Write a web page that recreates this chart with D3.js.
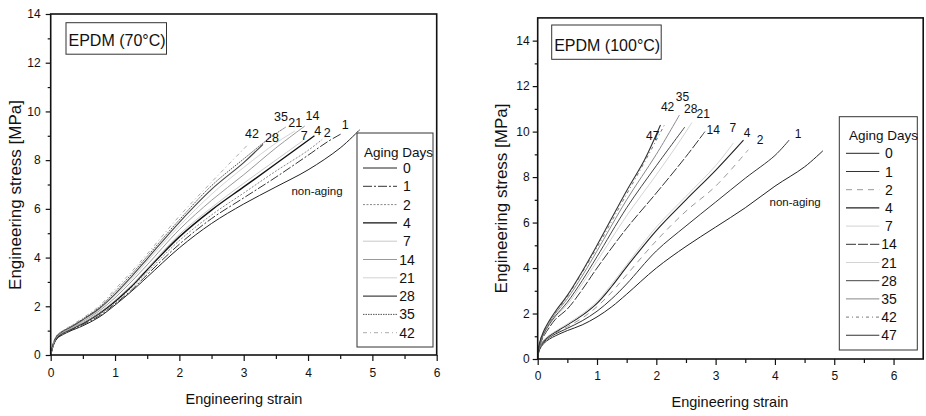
<!DOCTYPE html>
<html>
<head>
<meta charset="utf-8">
<script src="https://cdn.jsdelivr.net/npm/d3@7"></script>
<style>
  html, body { margin: 0; padding: 0; background: #fff; }
  svg { display: block; font-family: "Liberation Sans", Arial, sans-serif; }
</style>
</head>
<body>
<svg id="chart" width="926" height="416"></svg>
<script>
// ---------------- DATA ----------------
const agingDays70 = ["0", "1", "2", "4", "7", "14", "21", "28", "35", "42"];
const agingDays100 = ["0", "1", "2", "4", "7", "14", "21", "28", "35", "42", "47"];

const xTicks70 = [0, 1, 2, 3, 4, 5, 6];
const yTicks70 = [0, 2, 4, 6, 8, 10, 12, 14];
const xTicks100 = [0, 1, 2, 3, 4, 5, 6];
const yTicks100 = [0, 2, 4, 6, 8, 10, 12, 14];

// Left chart: EPDM (70°C), [strain, stress MPa]
const c70_0  = [[0,0],[0.05,0.45],[0.1,0.68],[0.2,0.85],[0.3,0.98],[0.5,1.2],[0.75,1.55],[1,2.05],[1.25,2.6],[1.5,3.2],[2,4.4],[2.5,5.4],[3,6.2],[3.5,6.9],[4,7.6],[4.5,8.5],[4.8,9.24]];
const c70_1  = [[0,0],[0.05,0.48],[0.1,0.7],[0.2,0.88],[0.3,1.0],[0.5,1.25],[0.75,1.6],[1,2.1],[1.25,2.65],[1.5,3.3],[2,4.55],[2.5,5.6],[3,6.45],[3.5,7.3],[4,8.2],[4.3,8.75],[4.53,9.1]];
const c70_2  = [[0,0],[0.05,0.5],[0.1,0.72],[0.2,0.9],[0.3,1.02],[0.5,1.28],[0.75,1.65],[1,2.15],[1.25,2.75],[1.5,3.4],[2,4.7],[2.5,5.75],[3,6.65],[3.5,7.55],[4,8.4],[4.22,8.85]];
const c70_4  = [[0,0],[0.05,0.5],[0.1,0.74],[0.2,0.92],[0.3,1.05],[0.5,1.3],[0.75,1.7],[1,2.2],[1.25,2.8],[1.5,3.5],[2,4.85],[2.5,5.95],[3,6.9],[3.5,7.85],[4.1,9.0]];
const c70_7  = [[0,0],[0.05,0.5],[0.1,0.75],[0.2,0.93],[0.3,1.06],[0.5,1.32],[0.75,1.72],[1,2.25],[1.25,2.85],[1.5,3.55],[2,4.95],[2.5,6.05],[3,7.05],[3.5,8.0],[3.92,8.8]];
const c70_14 = [[0,0],[0.05,0.52],[0.1,0.77],[0.2,0.95],[0.3,1.08],[0.5,1.38],[0.75,1.8],[1,2.35],[1.25,3.0],[1.5,3.7],[2,5.15],[2.5,6.35],[3,7.4],[3.5,8.5],[3.95,9.4]];
const c70_21 = [[0,0],[0.05,0.52],[0.1,0.78],[0.2,0.97],[0.3,1.1],[0.5,1.4],[0.75,1.85],[1,2.45],[1.25,3.1],[1.5,3.85],[2,5.3],[2.5,6.6],[3,7.7],[3.5,8.7],[3.8,9.2]];
const c70_28 = [[0,0],[0.05,0.55],[0.1,0.8],[0.2,1.0],[0.3,1.13],[0.5,1.45],[0.75,1.9],[1,2.5],[1.25,3.2],[1.5,3.95],[2,5.45],[2.5,6.8],[3,7.9],[3.3,8.65]];
const c70_35 = [[0,0],[0.05,0.55],[0.1,0.8],[0.2,1.0],[0.3,1.15],[0.5,1.48],[0.75,1.95],[1,2.6],[1.25,3.3],[1.5,4.05],[2,5.55],[2.5,6.95],[3,8.05],[3.4,8.9],[3.65,9.35]];
const c70_42 = [[0,0],[0.05,0.58],[0.1,0.82],[0.2,1.02],[0.3,1.18],[0.5,1.52],[0.75,2.0],[1,2.7],[1.25,3.4],[1.5,4.15],[2,5.7],[2.5,7.1],[3.07,8.65]];

// Right chart: EPDM (100°C)
const c100_0  = [[0,0],[0.03,0.4],[0.1,0.68],[0.2,0.88],[0.3,1.02],[0.5,1.25],[0.75,1.5],[1,1.85],[1.25,2.3],[1.5,2.85],[2,4.0],[2.5,4.95],[3,5.8],[3.5,6.65],[4,7.6],[4.5,8.45],[4.81,9.16]];
const c100_1  = [[0,0],[0.03,0.45],[0.1,0.74],[0.2,0.95],[0.3,1.1],[0.5,1.35],[0.75,1.68],[1,2.1],[1.25,2.65],[1.5,3.3],[2,4.75],[2.5,5.85],[3,6.9],[3.5,7.95],[4,8.95],[4.24,9.63]];
const c100_2  = [[0,0],[0.03,0.48],[0.1,0.77],[0.2,0.98],[0.3,1.14],[0.5,1.42],[0.75,1.8],[1,2.3],[1.25,2.95],[1.5,3.7],[2,5.2],[2.5,6.5],[3,7.6],[3.55,9.2]];
const c100_4  = [[0,0],[0.03,0.5],[0.1,0.8],[0.2,1.02],[0.3,1.19],[0.5,1.5],[0.75,1.92],[1,2.45],[1.25,3.2],[1.5,4.05],[2,5.65],[2.5,7.0],[3,8.3],[3.47,9.63]];
const c100_7  = [[0,0],[0.03,0.5],[0.1,0.82],[0.2,1.05],[0.3,1.22],[0.5,1.55],[0.75,1.98],[1,2.52],[1.25,3.3],[1.5,4.15],[2,5.8],[2.5,7.15],[3,8.5],[3.3,9.5]];
const c100_14 = [[0,0],[0.03,0.55],[0.1,1.0],[0.2,1.4],[0.3,1.75],[0.5,2.2],[0.75,3.05],[1,4.0],[1.5,5.75],[2,7.3],[2.5,8.9],[2.82,10.0]];
const c100_21 = [[0,0],[0.03,0.6],[0.1,1.05],[0.2,1.5],[0.3,1.85],[0.5,2.4],[0.75,3.3],[1,4.3],[1.5,6.3],[2,8.1],[2.4,9.6],[2.6,10.4]];
const c100_28 = [[0,0],[0.03,0.62],[0.1,1.1],[0.2,1.55],[0.3,1.9],[0.5,2.5],[0.75,3.45],[1,4.5],[1.5,6.65],[2,8.5],[2.48,10.2]];
const c100_35 = [[0,0],[0.03,0.65],[0.1,1.15],[0.2,1.6],[0.3,2.0],[0.5,2.65],[0.75,3.65],[1,4.75],[1.5,7.0],[2,9.0],[2.39,10.73]];
const c100_42 = [[0,0],[0.03,0.68],[0.1,1.2],[0.2,1.65],[0.3,2.05],[0.5,2.75],[0.75,3.8],[1,4.9],[1.5,7.25],[1.8,8.65],[2.15,10.36]];
const c100_47 = [[0,0],[0.03,0.7],[0.1,1.22],[0.2,1.7],[0.3,2.1],[0.5,2.8],[0.75,3.85],[1,5.0],[1.5,7.4],[1.8,8.75],[2.07,10.29]];

// Curve end labels [text, strain, stress]
const labels70 = [["1",4.58,9.44],["2",4.30,9.12],["4",4.15,9.2],["7",3.94,9.02],["14",4.07,9.82],["21",3.80,9.55],["35",3.58,9.78],["28",3.44,8.92],["42",3.13,9.08],["non-aging",4.14,6.74]];
const labels100 = [["1",4.39,9.89],["2",3.75,9.63],["4",3.53,9.93],["7",3.29,10.15],["14",2.96,10.07],["21",2.79,10.78],["28",2.58,11.0],["35",2.44,11.55],["42",2.19,11.1],["47",1.94,9.8],["non-aging",4.34,6.92]];

const series70 = [c70_0, c70_1, c70_2, c70_4, c70_7, c70_14, c70_21, c70_28, c70_35, c70_42];
const series100 = [c100_0, c100_1, c100_2, c100_4, c100_7, c100_14, c100_21, c100_28, c100_35, c100_42, c100_47];

// ---------------- STYLES ----------------
const styles70 = [
  {c:"#222", w:1.0, d:null},
  {c:"#333", w:1.0, d:"9,2,2,2"},
  {c:"#888", w:1.0, d:"2,1.5"},
  {c:"#111", w:1.4, d:null},
  {c:"#bbb", w:0.8, d:null},
  {c:"#999", w:1.0, d:null},
  {c:"#c8c8c8", w:0.8, d:null},
  {c:"#444", w:1.1, d:null},
  {c:"#555", w:1.0, d:"1.5,1"},
  {c:"#aaa", w:1.0, d:"4,3,1,3"}
];
const styles100 = [
  {c:"#222", w:1.0, d:null},
  {c:"#333", w:1.0, d:null},
  {c:"#999", w:1.0, d:"6,5"},
  {c:"#222", w:1.1, d:null},
  {c:"#c8c8c8", w:0.8, d:null},
  {c:"#333", w:1.0, d:"10,2"},
  {c:"#c8c8c8", w:0.8, d:null},
  {c:"#444", w:1.0, d:null},
  {c:"#888", w:1.0, d:null},
  {c:"#777", w:1.0, d:"3,3,1,3"},
  {c:"#333", w:1.1, d:null}
];

const svg = d3.select("#chart");

function drawChart(cfg) {
  const x = d3.scaleLinear().domain(cfg.xDomain).range(cfg.xRange);
  const y = d3.scaleLinear().domain(cfg.yDomain).range(cfg.yRange);
  const g = svg.append("g");

  // curves
  const line = d3.line().x(d => x(d[0])).y(d => y(d[1])).curve(d3.curveCatmullRom.alpha(0.5));
  cfg.series.forEach((s, i) => {
    const st = cfg.styles[i];
    g.append("path").attr("d", line(s)).attr("fill", "none")
      .attr("stroke", st.c).attr("stroke-width", st.w)
      .attr("stroke-dasharray", st.d);
  });

  // bottom axis
  const xMinor = d3.range(cfg.xDomain[0] + 0.5, 6, 1);
  const bx = g.append("g").attr("transform", `translate(0,${cfg.yRange[0]})`)
    .call(d3.axisBottom(x).tickValues(cfg.xTicks).tickSize(6).tickPadding(cfg.xPad).tickFormat(d3.format("d")));
  const bxm = g.append("g").attr("transform", `translate(0,${cfg.yRange[0]})`)
    .call(d3.axisBottom(x).tickValues(xMinor).tickSize(4).tickFormat(""));
  // left axis
  const yMinor = d3.range(1, 15, 2);
  const ly = g.append("g").attr("transform", `translate(${cfg.xRange[0]},0)`)
    .call(d3.axisLeft(y).tickValues(cfg.yTicks).tickSize(5).tickPadding(cfg.yPad).tickFormat(d3.format("d")));
  const lym = g.append("g").attr("transform", `translate(${cfg.xRange[0]},0)`)
    .call(d3.axisLeft(y).tickValues(yMinor).tickSize(3).tickFormat(""));
  [bx, bxm, ly, lym].forEach(a => {
    a.select(".domain").remove();
    a.selectAll("line").attr("stroke", "#111").attr("stroke-width", 1.2);
    a.selectAll("text").attr("font-size", 12).attr("fill", "#111")
      .attr("font-family", "'Liberation Sans', Arial, sans-serif");
  });

  // frame
  g.append("rect")
    .attr("x", cfg.xRange[0]).attr("y", cfg.yRange[1])
    .attr("width", cfg.xRange[1] - cfg.xRange[0])
    .attr("height", cfg.yRange[0] - cfg.yRange[1])
    .attr("fill", "none").attr("stroke", "#111").attr("stroke-width", 1.6);

  // title box
  const tb = cfg.titleBox;
  g.append("rect").attr("x", tb.x).attr("y", tb.y).attr("width", tb.w).attr("height", tb.h)
    .attr("fill", "#fff").attr("stroke", "#333").attr("stroke-width", 1);
  g.append("text").attr("x", tb.x + 2.5).attr("y", tb.y + tb.h - 8)
    .attr("font-size", 16).attr("fill", "#111").text(cfg.title);

  // curve labels
  cfg.labels.forEach(l => {
    g.append("text").attr("x", x(l[1])).attr("y", y(l[2]))
      .attr("text-anchor", "middle").attr("dy", "0.35em")
      .attr("font-size", l[0] === "non-aging" ? 11.5 : cfg.labelSize)
      .attr("fill", "#111").text(l[0]);
  });

  // legend
  const lg = cfg.legend;
  g.append("rect").attr("x", lg.x).attr("y", lg.y).attr("width", lg.w).attr("height", lg.h)
    .attr("fill", "#fff").attr("stroke", "#333").attr("stroke-width", 1);
  g.append("text").attr("x", lg.titleX).attr("y", lg.titleY)
    .attr("font-size", 13.5).attr("fill", "#111").text("Aging Days");
  cfg.days.forEach((dname, i) => {
    const yy = lg.row0 + i * lg.step;
    const st = cfg.styles[i];
    g.append("line").attr("x1", lg.lx1).attr("x2", lg.lx2).attr("y1", yy).attr("y2", yy)
      .attr("stroke", st.c).attr("stroke-width", st.w).attr("stroke-dasharray", st.d);
    g.append("text").attr("x", lg.tx).attr("y", yy).attr("dy", "0.36em")
      .attr("text-anchor", "middle").attr("font-size", 14).attr("fill", "#111").text(dname);
  });

  // axis titles
  g.append("text").attr("x", cfg.xLabel.x).attr("y", cfg.xLabel.y)
    .attr("text-anchor", "middle").attr("font-size", 14.5).attr("fill", "#111")
    .text("Engineering strain");
  g.append("text").attr("transform", `translate(${cfg.yLabel.x},${cfg.yLabel.y}) rotate(-90)`)
    .attr("text-anchor", "middle").attr("font-size", 17).attr("fill", "#111")
    .text("Engineering stress [MPa]");
}

drawChart({
  xDomain: [0, 6], xRange: [50.7, 436.7],
  yDomain: [0, 14], yRange: [355, 14],
  xTicks: xTicks70, yTicks: yTicks70, xPad: 7.5, yPad: 5,
  series: series70, styles: styles70, days: agingDays70,
  labels: labels70, labelSize: 12.5,
  title: "EPDM (70°C)",
  titleBox: {x: 66, y: 22.7, w: 100.5, h: 31.5},
  legend: {x: 357, y: 133, w: 76, h: 214, titleX: 364, titleY: 157,
           row0: 168, step: 18.3, lx1: 363, lx2: 397, tx: 407},
  xLabel: {x: 244, y: 404}, yLabel: {x: 20.5, y: 195}
});

drawChart({
  xDomain: [0, 6.5], xRange: [537.7, 923.2],
  yDomain: [0, 15], yRange: [359, 17.9],
  xTicks: xTicks100, yTicks: yTicks100, xPad: 6.5, yPad: 3,
  series: series100, styles: styles100, days: agingDays100,
  labels: labels100, labelSize: 12,
  title: "EPDM (100°C)",
  titleBox: {x: 551.7, y: 25, w: 109.5, h: 34.3},
  legend: {x: 839.3, y: 116.7, w: 78, h: 233.3, titleX: 849, titleY: 140,
           row0: 153.3, step: 18.2, lx1: 846, lx2: 879.3, tx: 889},
  xLabel: {x: 730, y: 407}, yLabel: {x: 507, y: 198.5}
});
</script>
</body>
</html>
